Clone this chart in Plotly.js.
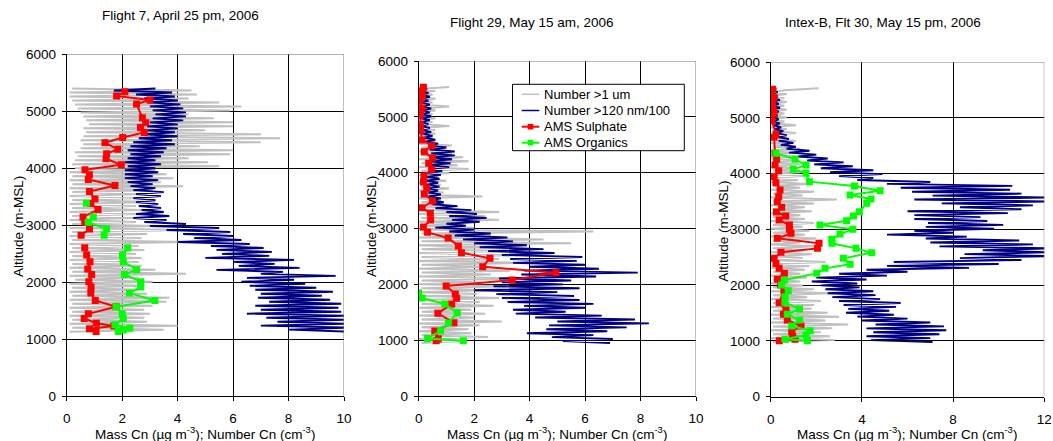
<!DOCTYPE html>
<html><head><meta charset="utf-8">
<script src="https://cdn.plot.ly/plotly-3.0.1.min.js"></script>
<style>html,body{margin:0;padding:0;background:#fff}#chart{width:1053px;height:441px}</style>
</head><body><div id="chart"></div>
<script>
// ---------- Panel titles ----------
const panelTitles = ["Flight 7, April 25 pm, 2006", "Flight 29, May 15 am, 2006", "Intex-B, Flt 30, May 15 pm, 2006"];
const seriesNames = ["Number >1 um", "Number >120 nm/100", "AMS Sulphate", "AMS Organics"];
const yTickVals = [0, 1000, 2000, 3000, 4000, 5000, 6000];
const xTickVals12 = [0, 2, 4, 6, 8, 10];
const xTickVals3 = [0, 4, 8, 12];

// ---------- Dense profiles: altitude grid start (m) and sampling step (m) ----------
const altStep = 35;
const p1AltStart = 1130, p2AltStart = 950, p3AltStart = 980;

// Flight 7 : Number >1 um (grey) and Number >120 nm/100 (navy), from lowest altitude upward
const p1Grey = [0.1,3.5,0.2,4.0,0.1,2.9,0.2,2.8,0.1,3.0,0.2,2.8,0.1,3.1,0.2,3.6,0.1,3.7,0.2,2.9,
0.1,2.6,0.2,2.8,0.1,3.1,0.3,2.6,0.1,4.3,0.2,3.2,0.1,2.7,0.2,2.6,0.1,2.7,0.2,2.5,
0.1,2.8,0.2,2.6,0.1,4.3,0.2,2.7,0.1,2.9,0.2,4.3,0.1,3.1,0.2,2.5,0.1,2.4,0.2,2.6,
0.1,2.7,0.2,2.5,0.1,3.2,0.2,2.8,0.1,2.9,0.2,3.1,0.1,4.2,0.2,3.4,0.1,3.85,0.2,3.6,
0.1,3.2,0.3,5.5,0.2,5.1,0.3,4.4,0.4,5.9,0.3,6.0,0.5,4.8,0.6,7.0,0.5,7.7,0.6,7.0,
0.7,5.0,0.6,6.0,0.8,6.0,0.7,5.3,0.6,4.4,0.5,5.9,0.4,6.3,0.3,5.5,0.2,4.4,0.1,4.7,
0.1,4.5,0.2];
const p1Navy = [10.2,8.0,10.2,7.0,10.1,7.6,10.1,7.2,10.1,6.5,9.9,7.0,9.8,6.8,9.9,7.3,9.5,6.9,9.2,7.0,
9.6,6.8,9.0,6.6,8.6,6.3,8.2,6.5,9.7,7.0,7.8,5.4,8.4,6.2,7.5,6.0,8.2,5.0,7.3,5.6,
7.4,5.4,7.1,5.2,6.6,4.0,6.3,4.6,6.0,4.2,5.9,3.6,5.5,3.0,4.3,2.8,3.6,2.4,3.7,2.5,
3.5,2.7,3.4,2.6,3.3,2.5,3.2,2.4,3.4,2.5,3.5,2.4,3.2,2.3,3.1,2.2,3.3,2.1,3.1,2.1,
3.3,2.1,3.2,2.2,3.4,2.1,3.2,2.2,3.4,2.3,3.5,2.2,3.6,2.3,3.9,2.4,3.8,2.6,4.0,2.8,
3.9,2.9,4.0,2.9,4.0,3.0,4.2,3.1,4.3,3.2,4.3,3.1,4.2,3.0,4.1,2.9,4.0,2.8,3.9,2.5,
3.8,1.7,3.2];

// Flight 29
const p2Grey = [0.1,1.6,0.0,2.5,0.1,1.9,0.0,1.8,0.1,2.2,0.0,3.0,0.1,2.0,0.0,2.4,0.1,1.9,0.0,2.7,
0.1,2.2,0.0,2.9,0.1,2.1,0.0,2.4,0.1,3.2,0.0,2.3,0.1,3.7,0.0,2.6,0.1,3.3,0.0,2.4,
0.1,3.9,0.0,2.9,0.1,3.5,0.0,3.3,0.1,2.4,0.0,5.5,0.1,4.5,0.0,2.6,0.1,6.3,0.0,2.0,
0.1,1.6,0.0,2.9,0.1,2.4,0.0,2.9,0.1,1.2,0.0,0.9,0.1,0.8,0.0,2.3,0.1,0.9,0.0,1.1,
0.1,0.8,0.0,1.0,0.1,0.7,0.0,1.1,0.1,1.8,0.0,1.4,0.1,1.8,0.0,1.6,0.1,1.2,0.0,0.8,
0.1,1.2,0.0,0.6,0.1,0.5,0.0,0.6,0.1,0.6,0.0,1.1,0.1,0.5,0.0,0.6,0.1,0.5,0.0,0.6,
0.1,1.1,0.0,0.5,0.1,0.6,0.0,0.5,0.1,0.6,0.0,1.1];
const p2Navy = [6.9,5.2,7.0,4.8,6.3,3.9,6.8,4.6,7.5,4.7,8.3,5.0,7.8,4.2,6.6,3.5,5.3,3.4,6.0,3.8,
6.3,3.2,5.8,3.0,5.6,2.8,5.0,2.0,5.8,2.7,5.2,3.0,5.5,2.9,6.4,3.7,7.9,3.8,6.5,4.0,
6.0,3.4,5.7,3.3,5.9,3.0,4.9,2.5,4.5,2.2,3.9,2.0,3.4,1.6,3.2,1.3,2.6,1.1,2.0,0.6,
1.7,1.0,2.2,1.2,2.45,1.1,2.1,1.0,1.9,0.6,1.4,0.5,0.9,0.4,0.8,0.35,0.8,0.35,0.7,0.3,
0.75,0.3,0.7,0.3,0.75,0.3,0.8,0.3,0.85,0.35,1.1,0.3,1.15,0.4,1.2,0.4,1.3,0.45,1.3,0.4,
1.0,0.35,0.7,0.25,0.6,0.2,0.5,0.15,0.45,0.1,0.4,0.1,0.35,0.1,0.4,0.1,0.45,0.1,0.4,0.1,
0.45,0.1,0.4,0.1,0.35,0.1,0.4,0.1,0.35,0.05,0.3,0.1];

// Intex-B Flt 30
const p3Grey = [0.1,2.8,0.0,2.6,0.1,2.2,0.0,2.7,0.1,3.4,0.0,2.4,0.1,3.0,0.0,2.5,0.1,1.8,0.0,1.9,
0.1,2.2,0.0,1.6,0.1,2.6,0.0,1.9,0.1,1.4,0.0,1.3,0.1,1.6,0.0,1.3,0.1,1.5,0.0,1.7,
0.1,2.4,0.0,1.4,0.1,1.8,0.0,1.4,0.1,1.9,0.0,1.3,0.1,2.0,0.0,1.5,0.1,1.7,0.0,1.4,
0.1,1.9,0.0,1.5,0.1,1.3,0.0,1.8,0.1,1.5,0.0,1.9,0.1,2.9,0.0,1.4,0.1,1.9,0.0,1.3,
0.1,1.7,0.0,1.2,0.1,1.4,0.0,1.3,0.1,1.1,0.0,1.3,0.1,1.0,0.0,1.2,0.1,0.9,0.0,1.3,
0.1,0.8,0.0,1.1,0.1,0.7,0.0,1.1,0.1,0.7,0.0,1.1,0.1,0.6,0.0,0.7,0.1,0.6,0.0,0.7,
0.1,0.6,0.0,0.7,0.1,0.6,0.0,0.7,0.1,0.6,2.1];
const p3Navy = [7.1,4.4,7.0,4.2,7.4,4.5,7.7,4.2,7.6,4.6,7.0,4.0,6.0,3.8,5.4,3.3,5.2,3.4,5.5,3.2,
5.7,3.0,4.8,2.7,4.6,2.5,4.5,2.4,3.9,2.2,3.8,1.8,4.2,2.0,5.1,3.0,6.0,4.2,8.7,5.1,
10.0,5.4,11.0,8.3,12.2,8.5,12.2,9.3,12.2,7.4,11.5,7.0,10.9,6.8,8.6,5.1,8.0,6.3,9.8,6.8,
10.2,6.9,9.5,6.3,9.2,6.3,10.4,6.0,11.0,8.3,11.5,7.5,12.2,6.3,12.2,7.1,11.0,6.2,10.5,5.7,
10.6,5.1,7.0,3.8,4.5,3.0,4.9,2.6,4.5,2.2,3.6,1.9,3.2,1.6,2.5,1.2,2.0,0.8,1.7,0.7,
1.1,0.45,1.0,0.35,0.8,0.3,0.7,0.25,0.55,0.2,0.45,0.15,0.4,0.1,0.35,0.05,0.3,0.1,0.35,0.1,
0.4,0.1,0.35,0.1,0.4,0.1,0.3,0.1,0.3,0.1,0.25];

// ---------- AMS samples (altitude m, mass ug/m3) ----------
const p1SulAlt = [5343,5267,5197,5126,4886,4798,4716,4628,4540,4446,4334,4253,4165,4059,3971,3883,3801,3695,3590,3461,3378,3273,3144,3050,2933,2821,null,2604,2475,2358,2229,2135,2006,1912,1807,1677,1566,1443,1361,1279,1230,1180,1132];
const p1SulX = [2.10,1.80,3.00,2.52,2.73,2.85,2.66,2.80,2.02,1.38,1.84,1.44,1.42,1.97,0.66,0.82,0.78,1.74,0.82,1.02,0.87,1.13,0.59,0.65,0.82,0.52,null,0.65,0.72,0.84,0.76,0.90,0.80,0.88,0.87,1.03,1.78,0.78,0.63,1.07,1.70,0.82,1.06];
const p1OrgAlt = [3384,null,3144,3050,2933,2821,null,2604,2475,2358,2218,2135,2006,1912,1807,1677,1566,1443,1361,1250,1190,1160,1132];
const p1OrgX = [0.71,null,0.96,0.78,1.44,1.35,null,2.20,2.01,2.04,2.52,2.08,2.67,2.67,2.26,3.18,1.78,2.00,2.04,1.74,2.28,2.04,1.86];

const p2SulAlt = [5528,5469,5361,5284,5152,5033,4854,4746,4585,4484,4376,4263,4167,4060,3940,3833,3719,3618,3493,3373,3272,3152,3027,2931,2830,2687,2567,2466,2316,2209,2078,1970,1827,1749,1648,1481,1313,1164,1027,991];
const p2SulX = [0.17,0.11,0.14,0.05,0.12,0.07,0.06,0.07,0.12,0.47,0.20,0.50,0.36,0.47,0.19,0.17,0.29,0.20,0.50,0.12,0.42,0.43,0.17,0.32,1.06,1.43,1.54,2.57,2.31,4.95,3.37,0.99,1.32,1.37,1.19,0.69,1.27,0.58,0.71,0.63];
const p2OrgAlt = [1845,1755,1648,1490,1308,1167,1030,988];
const p2OrgX = [0.0,0.12,0.94,1.39,1.07,0.79,0.32,1.61];

const p3SulAlt = [5510,5438,5361,5259,5169,5080,5008,4942,4703,4649,4363,4255,4153,4052,3944,3837,3705,3586,3496,3394,3311,3239,3167,3078,3000,2928,2839,2749,2659,2588,2480,2390,2301,2211,2104,2002,1900,1685,1554,1476,1375,1267,1165,1088,1028,1004];
const p3SulX = [0.09,0.0,0.15,0.07,0.09,0.15,0.04,0.06,0.23,0.15,0.19,0.26,0.19,0.35,0.15,0.23,0.41,0.35,0.29,0.48,0.25,0.66,0.37,0.82,0.82,0.89,0.29,2.12,2.05,0.45,0.15,0.23,0.37,0.60,0.29,0.44,0.58,0.37,0.67,0.56,0.73,1.33,0.92,0.96,1.07,0.38];
const p3OrgAlt = [4363,4255,4153,4076,4004,3855,3777,3693,3616,3544,3466,3317,3239,3155,3078,3000,2916,2821,2749,2659,2582,2480,2373,2301,2211,2092,2002,1900,1793,1685,1572,1476,1375,1267,1183,1106,1028,1004];
const p3OrgX = [0.23,1.07,1.55,0.99,1.55,1.70,3.67,4.80,3.48,4.40,4.21,3.89,3.63,3.33,2.16,3.60,3.04,2.68,2.69,3.74,4.43,3.19,3.48,2.38,2.02,0.60,0.48,0.77,0.63,0.63,1.26,0.73,1.26,0.92,1.73,1.55,0.63,1.61];

// ---------- build ----------
function altGrid(start, n) { const a = []; for (let i = 0; i < n; i++) a.push(start + i * altStep); return a; }
const FONT = "Liberation Sans, Arial, Helvetica, sans-serif";
const GREY = "#c0c0c0", NAVY = "#000080", RED = "#ff0000", GREEN = "#00ff00";
const seriesColors = [GREY, NAVY, RED, GREEN];

const panels = [
  {grey: p1Grey, navy: p1Navy, start: p1AltStart, sx: p1SulX, sa: p1SulAlt, ox: p1OrgX, oa: p1OrgAlt, xa: "x", ya: "y"},
  {grey: p2Grey, navy: p2Navy, start: p2AltStart, sx: p2SulX, sa: p2SulAlt, ox: p2OrgX, oa: p2OrgAlt, xa: "x2", ya: "y2"},
  {grey: p3Grey, navy: p3Navy, start: p3AltStart, sx: p3SulX, sa: p3SulAlt, ox: p3OrgX, oa: p3OrgAlt, xa: "x3", ya: "y3"}
];
const traces = [];
panels.forEach(p => {
  traces.push({type: "scatter", mode: "lines", x: p.grey, y: altGrid(p.start, p.grey.length), xaxis: p.xa, yaxis: p.ya,
    name: seriesNames[0], showlegend: false, line: {color: GREY, width: 2}, hoverinfo: "skip"});
  traces.push({type: "scatter", mode: "lines", x: p.navy, y: altGrid(p.start, p.navy.length), xaxis: p.xa, yaxis: p.ya,
    name: seriesNames[1], showlegend: false, line: {color: NAVY, width: 1.9}, hoverinfo: "skip"});
  traces.push({type: "scatter", mode: "lines+markers", x: p.sx, y: p.sa, xaxis: p.xa, yaxis: p.ya, connectgaps: false,
    name: seriesNames[2], showlegend: false, line: {color: RED, width: 2}, marker: {symbol: "square", size: 7, color: RED}, hoverinfo: "skip"});
  traces.push({type: "scatter", mode: "lines+markers", x: p.ox, y: p.oa, xaxis: p.xa, yaxis: p.ya, connectgaps: false,
    name: seriesNames[3], showlegend: false, line: {color: GREEN, width: 2}, marker: {symbol: "square", size: 7, color: GREEN}, hoverinfo: "skip"});
});

function xAxis(dom, max, ticks, anchor) {
  return {domain: dom, range: [0, max], tickvals: ticks, ticktext: ticks.map(String), anchor: anchor,
    showgrid: true, gridcolor: "#000", gridwidth: 1, zeroline: false, showline: true, linecolor: "#000", linewidth: 1,
    ticks: "outside", ticklen: 4, tickcolor: "#000", tickfont: {family: FONT, size: 13.5, color: "#000"},
    ticklabelstandoff: 6, fixedrange: true};
}
function yAxis(dom, anchor) {
  return {domain: dom, range: [0, 6000], tickvals: yTickVals, ticktext: yTickVals.map(String), anchor: anchor,
    showgrid: true, gridcolor: "#000", gridwidth: 1, zeroline: false, showline: true, linecolor: "#000", linewidth: 1,
    ticks: "outside", ticklen: 4, tickcolor: "#000", tickfont: {family: FONT, size: 13.5, color: "#000"},
    ticklabelstandoff: 3, fixedrange: true};
}

const W = 1053, H = 441;
const px = v => v / W, py = v => 1 - v / H;

function frame(xa, ya, xmax) {
  return [
    {type: "line", xref: xa, yref: ya, x0: 0, x1: xmax, y0: 6000, y1: 6000, line: {color: "#808080", width: 1}},
    {type: "line", xref: xa, yref: ya, x0: xmax, x1: xmax, y0: 0, y1: 6000, line: {color: "#808080", width: 1}}
  ];
}

function ann(text, x, y, angle, size, anchor) {
  return {text: text, xref: "paper", yref: "paper", x: px(x), y: py(y), xanchor: anchor || "center", yanchor: "middle",
    showarrow: false, textangle: angle || 0, font: {family: FONT, size: size || 13.5, color: "#000"}};
}
const xTitle = "Mass Cn (\u00b5g m<sup>-3</sup>); Number Cn (cm<sup>-3</sup>)";

// ---------- legend (drawn in panel 2 like the original box) ----------
const legendBox = {l: 512.5, r: 684.3, t: 84.3, b: 150.7};
const legendRows = [94.3, 110.5, 126.7, 142.7];
const legendShapes = [{type: "rect", xref: "paper", yref: "paper", x0: px(legendBox.l), x1: px(legendBox.r), y0: py(legendBox.b), y1: py(legendBox.t),
  line: {color: "#000", width: 1}, fillcolor: "#fff"}];
const legendAnns = [];
seriesNames.forEach((n, i) => {
  const yy = py(legendRows[i]);
  legendShapes.push({type: "line", xref: "paper", yref: "paper", x0: px(521.7), x1: px(539.3), y0: yy, y1: yy,
    line: {color: seriesColors[i], width: i < 2 ? 1.5 : 2}});
  if (i >= 2) legendShapes.push({type: "rect", xref: "paper", yref: "paper", x0: px(527.7), x1: px(533.3),
    y0: py(legendRows[i] + 2.8), y1: py(legendRows[i] - 2.8), line: {width: 0}, fillcolor: seriesColors[i]});
  legendAnns.push(ann(n, 541.5, legendRows[i], 0, 13, "left"));
});

const layout = {
  width: W, height: H, margin: {l: 0, r: 0, t: 0, b: 0}, paper_bgcolor: "#fff", plot_bgcolor: "#fff",
  font: {family: FONT, color: "#000"}, showlegend: false,
  xaxis: xAxis([px(66.7), px(344)], 10, xTickVals12, "y"),
  yaxis: yAxis([py(396), py(54.3)], "x"),
  xaxis2: xAxis([px(418.7), px(696)], 10, xTickVals12, "y2"),
  yaxis2: yAxis([py(396), py(61)], "x2"),
  xaxis3: xAxis([px(770.7), px(1044.3)], 12, xTickVals3, "y3"),
  yaxis3: yAxis([py(396.7), py(62)], "x3"),
  shapes: [].concat(frame("x", "y", 10), frame("x2", "y2", 10), frame("x3", "y3", 12), legendShapes),
  annotations: [
    ann(panelTitles[0], 180, 16), ann(panelTitles[1], 532, 22.7), ann(panelTitles[2], 882.7, 22.7),
    ann("Altitude (m-MSL)", 18, 227, -90), ann("Altitude (m-MSL)", 371, 227, -90), ann("Altitude (m-MSL)", 722.7, 231, -90),
    ann(xTitle, 205, 433), ann(xTitle, 556.7, 433), ann(xTitle, 907, 433)
  ].concat(legendAnns),
  hovermode: false
};

Plotly.newPlot("chart", traces, layout, {staticPlot: true, displayModeBar: false});
</script></body></html>
